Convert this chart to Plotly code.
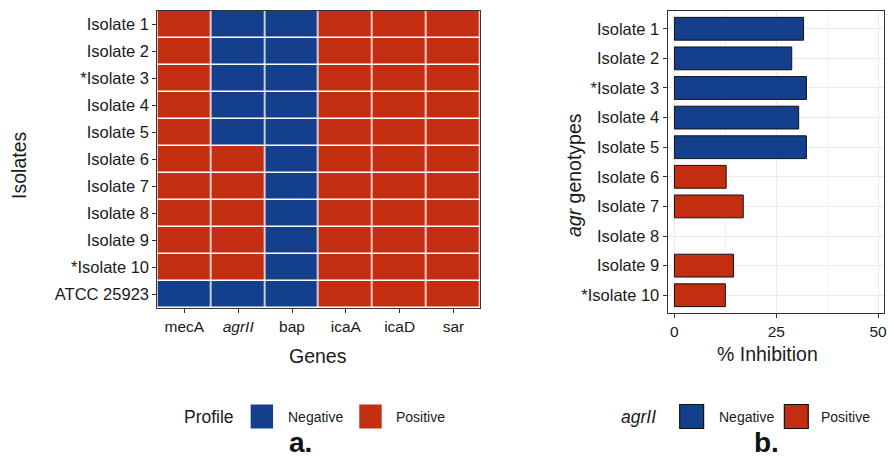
import plotly.graph_objects as go

# ---------------- data ----------------
isolates_a = ["Isolate 1", "Isolate 2", "*Isolate 3", "Isolate 4", "Isolate 5",
              "Isolate 6", "Isolate 7", "Isolate 8", "Isolate 9", "*Isolate 10",
              "ATCC 25923"]
genes = ["mecA", "agrII", "bap", "icaA", "icaD", "sar"]
gene_labels = ["mecA", "<i>agrII</i>", "bap", "icaA", "icaD", "sar"]
# 1 = Positive, 0 = Negative (per isolate, top to bottom)
mecA = [1, 1, 1, 1, 1, 1, 1, 1, 1, 1, 0]
agrII = [0, 0, 0, 0, 0, 1, 1, 1, 1, 1, 0]
bap = [0, 0, 0, 0, 0, 0, 0, 0, 0, 0, 0]
icaA = [1, 1, 1, 1, 1, 1, 1, 1, 1, 1, 1]
icaD = [1, 1, 1, 1, 1, 1, 1, 1, 1, 1, 1]
sar = [1, 1, 1, 1, 1, 1, 1, 1, 1, 1, 1]

isolates_b = ["Isolate 1", "Isolate 2", "*Isolate 3", "Isolate 4", "Isolate 5",
              "Isolate 6", "Isolate 7", "Isolate 8", "Isolate 9", "*Isolate 10"]
inhibition = [31.7, 28.8, 32.4, 30.5, 32.4, 12.7, 16.9, 0, 14.5, 12.5]
agrII_b = ["Negative", "Negative", "Negative", "Negative", "Negative",
           "Positive", "Positive", "Positive", "Positive", "Positive"]
x_ticks_b = [0, 25, 50]

# ---------------- style ----------------
BLUE = "#133F8D"
RED = "#C42E10"
colors = {"Negative": BLUE, "Positive": RED}
FONT = "Liberation Sans, Arial, sans-serif"
TXT = "#1a1a1a"
W, H = 889, 457


def px(x):
    return x / W


def py(y):
    return 1 - y / H


profile = [mecA, agrII, bap, icaA, icaD, sar]
z = [[profile[g][i] for g in range(len(genes))] for i in range(len(isolates_a))]

fig = go.Figure()
fig.add_trace(go.Heatmap(
    x=genes, y=isolates_a, z=z,
    colorscale=[[0, BLUE], [0.5, BLUE], [0.5, RED], [1, RED]],
    zmin=0, zmax=1, showscale=False, xgap=1.5, ygap=1.5,
    xaxis="x", yaxis="y",
))
fig.add_trace(go.Bar(
    y=isolates_b, x=inhibition, orientation="h",
    marker=dict(color=[colors[s] for s in agrII_b],
                line=dict(color="#111", width=[1 if v > 0 else 0 for v in inhibition])),
    width=0.77, xaxis="x2", yaxis="y2", showlegend=False,
))

axis_common = dict(showline=True, linecolor="#333", linewidth=1.3, mirror=True,
                   ticks="outside", ticklen=4, tickcolor="#333", tickwidth=1,
                   color=TXT, ticklabeloverflow="allow")

fig.update_layout(
    width=W, height=H, margin=dict(l=0, r=0, t=0, b=0),
    paper_bgcolor="white", plot_bgcolor="white",
    font=dict(family=FONT, color=TXT),
    showlegend=False,
    xaxis=dict(domain=[px(158), px(482)], anchor="y", type="category",
               tickvals=genes, ticktext=gene_labels,
               tickfont=dict(size=15.5), showgrid=False, **axis_common),
    yaxis=dict(domain=[py(308), py(11)], anchor="x", type="category",
               autorange="reversed", tickfont=dict(size=16.5), showgrid=False,
               **axis_common),
    xaxis2=dict(domain=[px(670), px(887)], anchor="y2", range=[-1.64, 51.45],
                tickvals=x_ticks_b, tickfont=dict(size=15.5),
                showgrid=True, gridcolor="#EBEBEB", gridwidth=1.2, zeroline=False,
                minor=dict(dtick=12.5, tick0=0, showgrid=True, gridcolor="#F2F2F2",
                           gridwidth=0.8, ticks=""),
                **axis_common),
    yaxis2=dict(domain=[py(313), py(11)], anchor="x2", type="category",
                categoryorder="array", categoryarray=isolates_b,
                range=[9.6, -0.6], tickfont=dict(size=16.5),
                showgrid=True, gridcolor="#EBEBEB", gridwidth=1.2,
                **axis_common),
)

ann = []
# axis titles
ann.append(dict(text="Isolates", x=px(19), y=py(165), textangle=-90, font=dict(size=19.5)))
ann.append(dict(text="Genes", x=px(319), y=py(356), font=dict(size=19.5)))
ann.append(dict(text="<i>agr</i> genotypes", x=px(576), y=py(175), textangle=-90, font=dict(size=19.5)))
ann.append(dict(text="% Inhibition", x=px(770), y=py(354), font=dict(size=19.5)))
# panel labels
ann.append(dict(text="<b>a.</b>", x=px(302), y=py(442), font=dict(size=28, color="#111")))
ann.append(dict(text="<b>b.</b>", x=px(769), y=py(442), font=dict(size=28, color="#111")))

shapes = []


def legend(title, tx, squares, border):
    ann.append(dict(text=title, x=px(tx), y=py(417), xanchor="left", font=dict(size=17.5)))
    for (x0, x1, lab_x, name) in squares:
        shapes.append(dict(type="rect", xref="paper", yref="paper",
                           x0=px(x0), x1=px(x1), y0=py(428.5), y1=py(404.5),
                           fillcolor=colors[name],
                           line=dict(color="#111" if border else colors[name],
                                     width=1.2 if border else 0)))
        ann.append(dict(text=name, x=px(lab_x), y=py(417), xanchor="left", font=dict(size=14)))


legend("Profile", 183, [(251.5, 274, 286.5, "Negative"), (360.5, 383, 395.5, "Positive")], False)
legend("<i>agrII</i>", 621, [(682, 706, 719, "Negative"), (787, 811, 822, "Positive")], True)

for a in ann:
    a.setdefault("xanchor", "center")
    a.update(xref="paper", yref="paper", showarrow=False, yanchor="middle")
fig.update_layout(annotations=ann, shapes=shapes)

fig.write_html(
    "out.html",
    config={"displayModeBar": False},
    post_script="document.body.style.margin='0';document.body.style.overflow='hidden';",
)
